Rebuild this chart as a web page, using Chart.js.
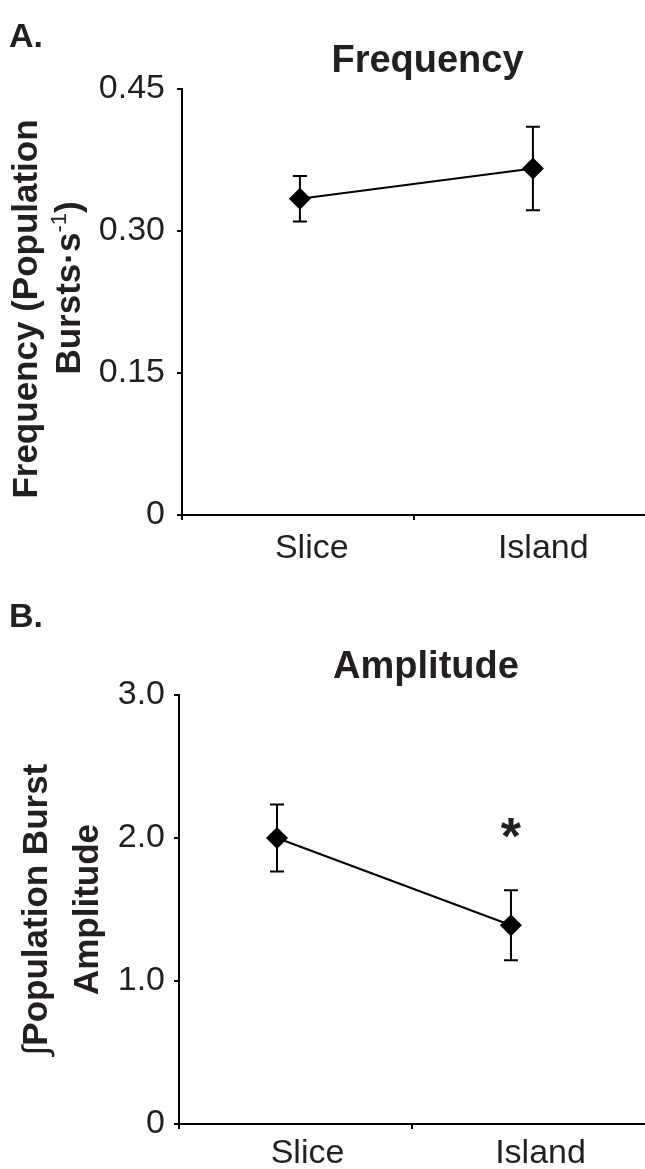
<!DOCTYPE html>
<html>
<head>
<meta charset="utf-8">
<script src="https://cdn.jsdelivr.net/npm/chart.js@4.4.1/dist/chart.umd.min.js"></script>
<style>
    html, body { margin: 0; padding: 0; background: #fff; overflow: hidden; }
    canvas { display: block; }
</style>
</head>
<body>
<canvas id="freqChart" width="645" height="585"></canvas>
<canvas id="ampChart" width="645" height="584"></canvas>
<script>
// values
var categories = ['Slice', 'Island'];

var freqMeans = [0.334, 0.366];
var freqSem = [0.024, 0.044];
var freqTicks = [0, 0.15, 0.30, 0.45];
var freqTickLabels = ['0', '0.15', '0.30', '0.45'];

var ampMeans = [2.00, 1.39];
var ampSem = [0.235, 0.245];
var ampTicks = [0, 1, 2, 3];
var ampTickLabels = ['0', '1.0', '2.0', '3.0'];
var ampSignificant = [false, true];

var FONT = '"Liberation Sans", Arial, Helvetica, sans-serif';
var INK = '#231f20';

function drawRotatedLine(ctx, parts, x, y, size) {
    ctx.save();
    ctx.translate(x, y);
    ctx.rotate(-Math.PI / 2);
    ctx.textBaseline = 'middle';
    ctx.textAlign = 'left';
    var widths = [], total = 0;
    parts.forEach(function (p) {
        ctx.font = (p.light ? '' : 'bold ') + (p.sup ? Math.round(size * 0.62) : size) + 'px ' + FONT;
        var w = ctx.measureText(p.t).width;
        widths.push(w);
        total += w;
    });
    var cx = -total / 2;
    parts.forEach(function (p, i) {
        ctx.font = (p.light ? '' : 'bold ') + (p.sup ? Math.round(size * 0.62) : size) + 'px ' + FONT;
        ctx.fillText(p.t, cx, p.sup ? -size * 0.3 : 0);
        cx += widths[i];
    });
    ctx.restore();
}

function drawPanel(canvasId, opts) {
    var ctx = document.getElementById(canvasId).getContext('2d');
    var canvasH = ctx.canvas.height;

    var extras = {
        id: 'extras',
        beforeDatasetsDraw: function (chart) {
            var c = chart.ctx, xs = chart.scales.xp, ys = chart.scales.y;
            c.save();
            c.strokeStyle = '#000';
            c.lineWidth = 2;
            opts.means.forEach(function (m, i) {
                var px = xs.getPixelForValue(i);
                var top = ys.getPixelForValue(m + opts.sem[i]);
                var bot = ys.getPixelForValue(m - opts.sem[i]);
                c.beginPath();
                c.moveTo(px, top); c.lineTo(px, bot);
                c.moveTo(px - 7, top); c.lineTo(px + 7, top);
                c.moveTo(px - 7, bot); c.lineTo(px + 7, bot);
                c.stroke();
            });
            c.restore();
        },
        afterDraw: function (chart) {
            var c = chart.ctx, area = chart.chartArea;
            var xs = chart.scales.xp, ys = chart.scales.y;
            c.save();
            c.fillStyle = INK;
            c.textAlign = 'left';
            c.textBaseline = 'alphabetic';
            c.font = 'bold 34px ' + FONT;
            c.fillText(opts.letter, 9, opts.letterY);

            c.textAlign = 'center';
            c.font = 'bold 38px ' + FONT;
            c.fillText(opts.title, (area.left + area.right) / 2 + 14, area.top - 17);

            var midY = (area.top + area.bottom) / 2;
            opts.yTitle.forEach(function (parts, k) {
                drawRotatedLine(c, parts, opts.yTitleX[k], midY + opts.yTitleShift[k], 35);
            });

            if (opts.significant) {
                c.font = 'bold 52px ' + FONT;
                c.textAlign = 'center';
                opts.significant.forEach(function (s, i) {
                    if (!s) return;
                    var px = xs.getPixelForValue(i);
                    var top = ys.getPixelForValue(opts.means[i] + opts.sem[i]);
                    c.fillText('*', px, top - 36);
                });
            }
            c.restore();
        }
    };

    return new Chart(ctx, {
        type: 'line',
        data: {
            labels: categories,
            datasets: [{
                data: opts.means.map(function (m, i) { return {x: i, y: m}; }),
                xAxisID: 'xp',
                yAxisID: 'y',
                borderColor: '#000',
                borderWidth: 2,
                tension: 0,
                pointStyle: 'rectRot',
                pointRadius: 11,
                pointBackgroundColor: '#000',
                pointBorderColor: '#000',
                pointBorderWidth: 0,
                clip: false
            }]
        },
        options: {
            responsive: false,
            animation: false,
            events: [],
            layout: {autoPadding: false, padding: {top: opts.top, left: 0, right: 0, bottom: 0}},
            plugins: {legend: {display: false}, tooltip: {enabled: false}, title: {display: false}},
            scales: {
                x: {
                    type: 'category',
                    offset: true,
                    grid: {
                        offset: true, drawOnChartArea: false, drawTicks: true, tickLength: 5, lineWidth: 2,
                        // the right end of the axis is cut off in the figure, so no tick there
                        color: function (c) { return c.tick ? '#000' : 'rgba(0,0,0,0)'; }
                    },
                    border: {display: true, color: '#000', width: 2},
                    ticks: {
                        font: {family: FONT, size: 34},
                        color: INK,
                        padding: opts.xPad,
                        labelOffset: opts.labelOffset,
                        maxRotation: 0,
                        autoSkip: false
                    },
                    afterFit: function (s) { s.height = canvasH - opts.bottom; }
                },
                xp: {type: 'linear', display: false, min: opts.xRange[0], max: opts.xRange[1]},
                y: {
                    min: opts.ticks[0],
                    max: opts.ticks[opts.ticks.length - 1],
                    afterBuildTicks: function (s) {
                        s.ticks = opts.ticks.map(function (v) { return {value: v}; });
                    },
                    grid: {drawOnChartArea: false, drawTicks: true, tickLength: 5, color: '#000', lineWidth: 2},
                    border: {display: true, color: '#000', width: 2},
                    ticks: {
                        font: {family: FONT, size: 34},
                        color: INK,
                        padding: opts.yPad,
                        callback: function (v, i) { return opts.tickLabels[i]; }
                    },
                    afterFit: function (s) { s.width = opts.left; }
                }
            }
        },
        plugins: [extras]
    });
}

drawPanel('freqChart', {
    means: freqMeans, sem: freqSem, ticks: freqTicks, tickLabels: freqTickLabels,
    letter: 'A.', letterY: 47, title: 'Frequency',
    yTitle: [
        [{t: 'Frequency (Population'}],
        [{t: 'Bursts\u00b7s'}, {t: '-1', sup: true, light: true}, {t: ')'}]
    ],
    yTitleX: [27, 70], yTitleShift: [7, -14],
    top: 89, bottom: 515, left: 182,
    xPad: 8, yPad: 12, labelOffset: 14,
    xRange: [-0.506, 1.481]
});

drawPanel('ampChart', {
    means: ampMeans, sem: ampSem, ticks: ampTicks, tickLabels: ampTickLabels,
    significant: ampSignificant,
    letter: 'B.', letterY: 42, title: 'Amplitude',
    yTitle: [
        [{t: '\u222b', light: true}, {t: 'Population Burst'}],
        [{t: 'Amplitude'}]
    ],
    yTitleX: [37, 88], yTitleShift: [0, 0],
    top: 110, bottom: 539, left: 179,
    xPad: 4, yPad: 9, labelOffset: 12,
    xRange: [-0.419, 1.573]
});
</script>
</body>
</html>
